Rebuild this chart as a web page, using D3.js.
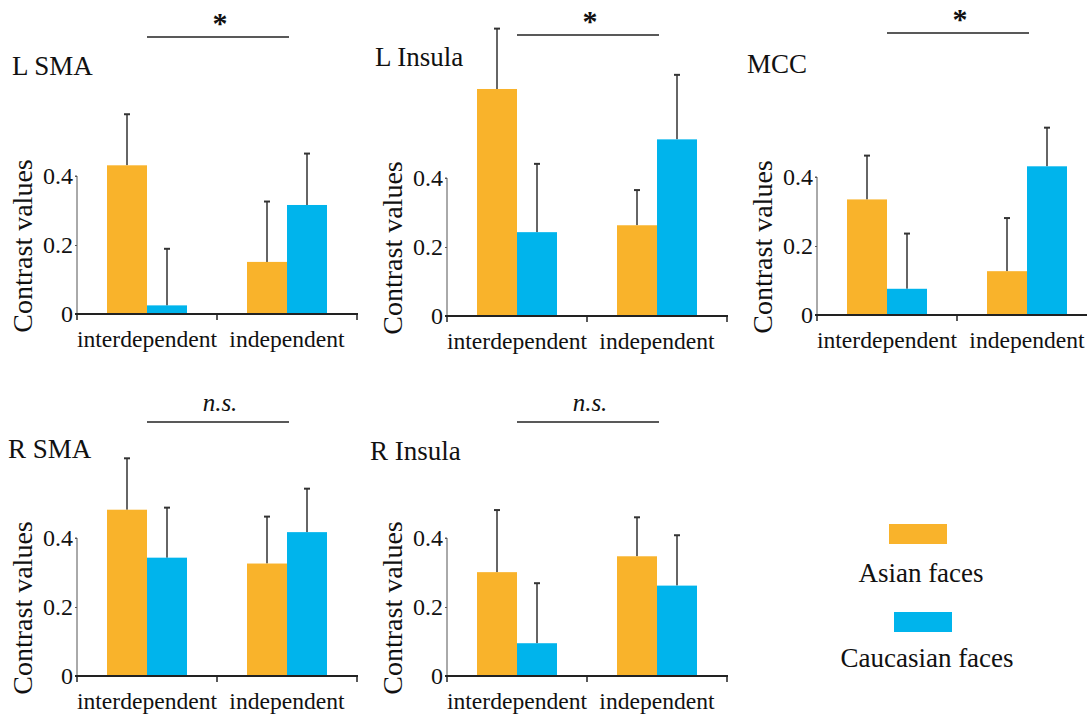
<!DOCTYPE html>
<html>
<head>
<meta charset="utf-8">
<script src="https://cdn.jsdelivr.net/npm/d3@7"></script>
<style>
  body { margin: 0; background: #fff; }
  text { font-family: "Liberation Serif", "Times New Roman", serif; fill: #111; }
</style>
</head>
<body>
<div id="chart"></div>
<script>
const width = 1087;
const height = 714;

// --- Data ---
const regions = ["L SMA", "L Insula", "MCC", "R SMA", "R Insula"];
const conditions = ["interdependent", "independent"];
const faceGroups = ["Asian faces", "Caucasian faces"];
const yTicks = [0, 0.2, 0.4];

// means per region: [interdependent, independent]
const asianMeans     = [[0.431, 0.151], [0.658, 0.263], [0.335, 0.127], [0.482, 0.326], [0.301, 0.347]];
const asianErrors    = [[0.148, 0.175], [0.175, 0.102], [0.127, 0.154], [0.149, 0.136], [0.180, 0.113]];
const caucasianMeans = [[0.025, 0.316], [0.243, 0.512], [0.076, 0.431], [0.343, 0.417], [0.095, 0.262]];
const caucasianErrors= [[0.164, 0.149], [0.198, 0.187], [0.160, 0.112], [0.145, 0.126], [0.174, 0.146]];
const significance = ["*", "*", "*", "n.s.", "n.s."];

const colour = d3.scaleOrdinal()
    .domain(faceGroups)
    .range(["#F9B32B", "#00B4EC"]);

// panel placement: x of y-axis, y of zero line, title position, significance bar y
const layout = [
    { x0: 77,  y0: 314, tx: 12,  ty: 75,  sy: 37 },
    { x0: 447, y0: 316, tx: 375, ty: 66,  sy: 35 },
    { x0: 817, y0: 315, tx: 747, ty: 73,  sy: 33 },
    { x0: 77,  y0: 676, tx: 8,   ty: 458, sy: 422 },
    { x0: 447, y0: 676, tx: 370, ty: 460, sy: 422 },
];

const svg = d3.create("svg")
    .attr("width", width)
    .attr("height", height);

regions.forEach((name, p) => {
    const L = layout[p];
    const g = svg.append("g");

    const x = d3.scaleBand().domain(conditions).range([L.x0, L.x0 + 280]);
    const xInner = d3.scaleBand().domain(faceGroups).range([-40, 40]);
    const y = d3.scaleLinear().domain([0, 0.4]).range([L.y0, L.y0 - 138]);

    const bars = [];
    conditions.forEach((c, i) => {
        bars.push({ cond: c, group: faceGroups[0], mean: asianMeans[p][i], err: asianErrors[p][i] });
        bars.push({ cond: c, group: faceGroups[1], mean: caucasianMeans[p][i], err: caucasianErrors[p][i] });
    });
    const bx = d => x(d.cond) + x.bandwidth() / 2 + xInner(d.group);

    // error bars (behind bars)
    const eb = g.append("g").attr("stroke", "#333").attr("stroke-width", 1.5);
    eb.selectAll("line.v").data(bars).join("line")
        .attr("x1", d => bx(d) + 20).attr("x2", d => bx(d) + 20)
        .attr("y1", d => y(d.mean)).attr("y2", d => y(d.mean + d.err));
    eb.selectAll("line.c").data(bars).join("line")
        .attr("stroke-width", 2)
        .attr("x1", d => bx(d) + 17).attr("x2", d => bx(d) + 23)
        .attr("y1", d => y(d.mean + d.err)).attr("y2", d => y(d.mean + d.err));

    g.append("g").selectAll("rect").data(bars).join("rect")
        .attr("x", bx)
        .attr("width", xInner.bandwidth())
        .attr("y", d => y(d.mean))
        .attr("height", d => y(0) - y(d.mean))
        .attr("fill", d => colour(d.group));

    // y axis
    const yAxis = g.append("g")
        .attr("transform", `translate(${L.x0},0)`)
        .call(d3.axisLeft(y).tickValues(yTicks).tickFormat(d => d === 0 ? "0" : d3.format(".1f")(d)).tickSize(2).tickPadding(2));
    yAxis.select(".domain").attr("stroke", "#555").attr("stroke-width", 1).attr("d", `M-2,${y(0.4)}H0V${y(0)}`);
    yAxis.selectAll(".tick line").attr("stroke", "#555");
    yAxis.selectAll(".tick text")
        .attr("font-size", 24)
        .attr("font-family", "Liberation Serif, Times New Roman, serif")
        .attr("fill", "#111");

    // x axis
    const xAxis = g.append("g")
        .attr("transform", `translate(0,${L.y0})`);
    xAxis.append("path")
        .attr("d", `M${L.x0 - 2},0H${L.x0 + 281}`)
        .attr("stroke", "#222").attr("stroke-width", 2).attr("fill", "none");
    xAxis.selectAll("line.tk").data([L.x0, L.x0 + x.bandwidth(), L.x0 + 280]).join("line")
        .attr("x1", d => d).attr("x2", d => d)
        .attr("y1", 0).attr("y2", 6)
        .attr("stroke", "#222").attr("stroke-width", 1.5);
    xAxis.selectAll("text").data(conditions).join("text")
        .attr("x", d => x(d) + x.bandwidth() / 2)
        .attr("y", 33)
        .attr("text-anchor", "middle")
        .attr("font-size", 23.6)
        .text(d => d);

    // y label
    g.append("text")
        .attr("transform", `translate(${L.x0 - 45},${L.y0 - 68}) rotate(-90)`)
        .attr("text-anchor", "middle")
        .attr("font-size", 28)
        .text("Contrast values");

    // title
    g.append("text")
        .attr("x", L.tx).attr("y", L.ty)
        .attr("font-size", 27)
        .text(name);

    // significance bar
    const c1 = x(conditions[0]) + x.bandwidth() / 2;
    const c2 = x(conditions[1]) + x.bandwidth() / 2;
    g.append("line")
        .attr("x1", c1).attr("x2", c2 + 2)
        .attr("y1", L.sy).attr("y2", L.sy)
        .attr("stroke", "#222").attr("stroke-width", 1.5);
    const star = significance[p] === "*";
    g.append("text")
        .attr("x", (c1 + c2) / 2 + 3)
        .attr("y", star ? L.sy - 4 : L.sy - 11)
        .attr("text-anchor", "middle")
        .attr("font-size", star ? 30 : 25)
        .attr("font-weight", star ? "bold" : "normal")
        .attr("font-style", star ? "normal" : "italic")
        .text(significance[p]);
});

// --- Legend ---
const legendItems = [
    { group: faceGroups[0], sx: 889, sy: 524, cx: 921, ty: 582 },
    { group: faceGroups[1], sx: 894, sy: 612, cx: 927, ty: 667 },
];
const legend = svg.append("g");
legend.selectAll("rect").data(legendItems).join("rect")
    .attr("x", d => d.sx).attr("y", d => d.sy)
    .attr("width", 58).attr("height", 20)
    .attr("fill", d => colour(d.group));
legend.selectAll("text").data(legendItems).join("text")
    .attr("x", d => d.cx).attr("y", d => d.ty)
    .attr("text-anchor", "middle")
    .attr("font-size", 27)
    .text(d => d.group);

document.querySelector("#chart").append(svg.node());
</script>
</body>
</html>
